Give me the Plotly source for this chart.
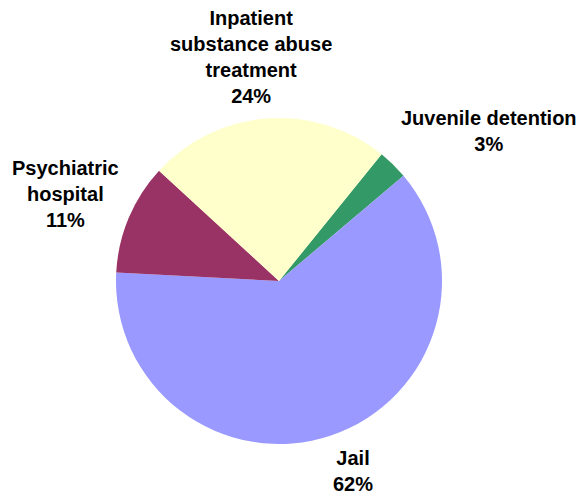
import plotly.graph_objects as go

# data
labels = ["Juvenile detention", "Jail", "Psychiatric hospital", "Inpatient substance abuse treatment"]
values = [3, 62, 11, 24]
colors = ["#339966", "#9999FF", "#993366", "#FFFFCC"]

# label text broken the way the chart shows it
label_lines = {
    "Juvenile detention": "Juvenile detention",
    "Jail": "Jail",
    "Psychiatric hospital": "Psychiatric<br>hospital",
    "Inpatient substance abuse treatment": "Inpatient<br>substance abuse<br>treatment",
}
# label centres in window pixels (x, y from top)
label_pos = [(489, 131), (353, 471), (65, 194), (251, 57)]

# page body has an 8px margin, so draw on a slightly smaller canvas
OFF = 8
W, H = 584 - OFF, 494 - OFF


def fx(px_):
    return (px_ - OFF) / W


def fy(py_):
    return 1 - (py_ - OFF) / H


fig = go.Figure(go.Pie(
    labels=labels,
    values=values,
    marker=dict(colors=colors, line=dict(width=0)),
    sort=False,
    direction="clockwise",
    rotation=39,
    textinfo="none",
    hoverinfo="label+percent",
    domain=dict(x=[fx(116), fx(442)], y=[fy(444), fy(118)]),
))

total = sum(values)
for name, v, (px_, py_) in zip(labels, values, label_pos):
    fig.add_annotation(
        x=fx(px_), y=fy(py_), xref="paper", yref="paper",
        xanchor="center", yanchor="middle",
        text=f"<b>{label_lines[name]}<br>{round(100 * v / total)}%</b>",
        showarrow=False,
        font=dict(family="Arial, Liberation Sans", size=20, color="black"),
    )

fig.update_layout(
    width=W, height=H,
    margin=dict(l=0, r=0, t=0, b=0),
    showlegend=False,
    paper_bgcolor="white",
    plot_bgcolor="white",
)

fig.write_html("out.html")
